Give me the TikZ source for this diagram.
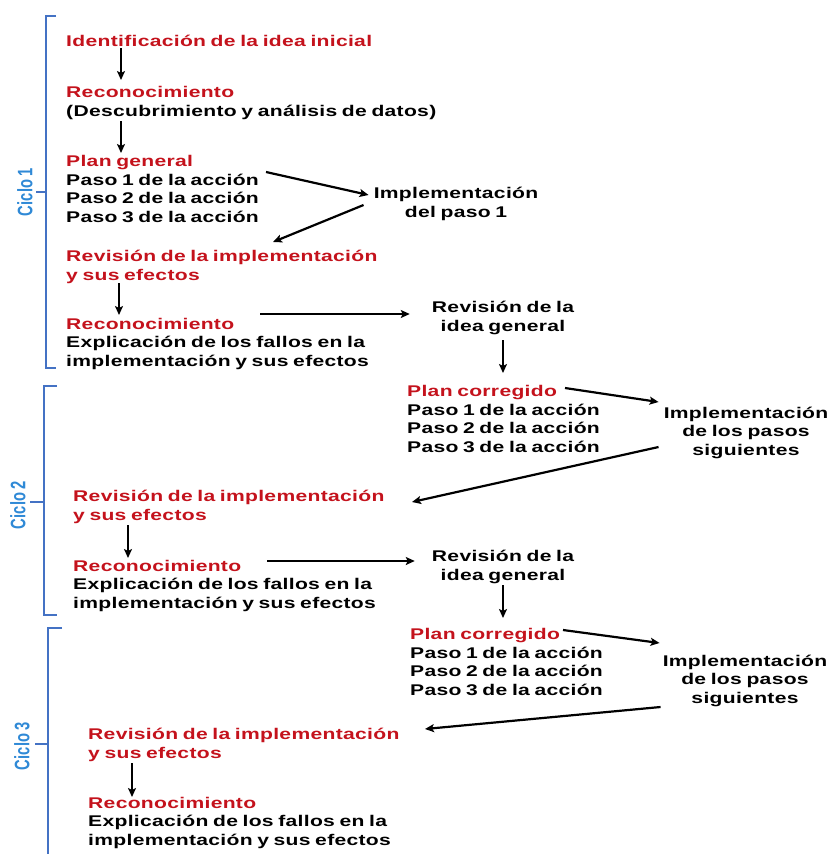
\documentclass[tikz,border=0pt]{standalone}
\usepackage{fontspec}
\usepackage{graphicx}
\setmainfont{Liberation Sans}[FakeStretch=1.36, LetterSpace=2, WordSpace=0.75]
\usetikzlibrary{arrows.meta,calc}
\definecolor{titred}{RGB}{196,18,28}
\definecolor{cicblue}{RGB}{47,137,214}
\definecolor{brblue}{RGB}{68,114,196}
\newcommand{\tit}[1]{\textcolor{titred}{#1}}

\begin{document}
\begin{tikzpicture}[
  x=1pt, y=-1pt,
  every node/.style={inner sep=0pt, font=\fontsize{15.5}{18.5}\selectfont\bfseries},
  stage/.style={anchor=base west, align=left},
  task/.style={anchor=base, align=center},
  ciclo/.style={rotate=90, text=cicblue},
  arr/.style={draw, -{Stealth[length=9pt,width=8pt,inset=2pt]}, line width=2.2pt},
  brace/.style={draw=brblue, line width=2.6pt}
]
\useasboundingbox (0,0) rectangle (832,854);

% ciclos
\draw[brace] (56,16) -- (46,16) -- (46,368) -- (56,368) (46,192) -- (36,192);
\draw[brace] (57,386) -- (44,386) -- (44,615) -- (57,615) (44,502) -- (30,502);
\draw[brace] (62,628) -- (48,628) -- (48,856) (48,744) -- (35,744);
\node[ciclo] (c1) at (25,192) {\scalebox{0.7}[1.35]{Ciclo 1}};
\node[ciclo] (c2) at (18,505) {\scalebox{0.7}[1.35]{Ciclo 2}};
\node[ciclo] (c3) at (22,746) {\scalebox{0.7}[1.35]{Ciclo 3}};

% ciclo 1 (nodes placed at the baseline of their last line)
\node[stage] (ident) at (66,46) {\tit{Identificación de la idea inicial}};
\node[stage] (recon1) at (66,116) {\tit{Reconocimiento}\\(Descubrimiento y análisis de datos)};
\node[stage] (plan1) at (66,222) {\tit{Plan general}\\Paso 1 de la acción\\Paso 2 de la acción\\Paso 3 de la acción};
\node[task] (impl1) at (456,217) {Implementación\\del paso 1};
\node[stage] (rev1) at (66,280) {\tit{Revisión de la implementación}\\\tit{y sus efectos}};
\node[stage] (recon2) at (66,366) {\tit{Reconocimiento}\\Explicación de los fallos en la\\implementación y sus efectos};
\node[task] (revg1) at (503,331) {Revisión de la\\idea general};

% ciclo 2
\node[stage] (plan2) at (407,452) {\tit{Plan corregido}\\Paso 1 de la acción\\Paso 2 de la acción\\Paso 3 de la acción};
\node[task] (impl2) at (746,455) {Implementación\\de los pasos\\siguientes};
\node[stage] (rev2) at (73,520) {\tit{Revisión de la implementación}\\\tit{y sus efectos}};
\node[stage] (recon3) at (73,608) {\tit{Reconocimiento}\\Explicación de los fallos en la\\implementación y sus efectos};
\node[task] (revg2) at (503,580) {Revisión de la\\idea general};

% ciclo 3
\node[stage] (plan3) at (410,695) {\tit{Plan corregido}\\Paso 1 de la acción\\Paso 2 de la acción\\Paso 3 de la acción};
\node[task] (impl3) at (745,703) {Implementación\\de los pasos\\siguientes};
\node[stage] (rev3) at (88,758) {\tit{Revisión de la implementación}\\\tit{y sus efectos}};
\node[stage] (recon4) at (88,845) {\tit{Reconocimiento}\\Explicación de los fallos en la\\implementación y sus efectos};

\draw[arr] ($(ident.base west)+(55,2)$) -- ($(recon1.base west)+(55,-36)$);
\draw[arr] ($(recon1.base west)+(55,5)$) -- ($(plan1.base west)+(55,-69)$);
\draw[arr] ($(plan1.base west)+(200,-50)$) -- ($(impl1.base west)+(-5,-22)$);
\draw[arr] ($(impl1.base west)+(-10,-12)$) -- ($(rev1.base west)+(207,-38)$);
\draw[arr] ($(rev1.base west)+(53,3)$) -- ($(recon2.base west)+(53,-51)$);
\draw[arr] ($(recon2.base west)+(194,-52)$) -- ($(revg1.base west)+(-22,-17)$);
\draw[arr] ($(revg1.base)+(0,9)$) -- ($(plan2.base west)+(96,-79)$);
\draw[arr] ($(plan2.base west)+(158,-64)$) -- ($(impl2.base west)+(-5,-53)$);
\draw[arr] ($(impl2.base west)+(-5,-8)$) -- ($(rev2.base west)+(339,-18)$);
\draw[arr] ($(rev2.base west)+(55,5)$) -- ($(recon3.base west)+(55,-50)$);
\draw[arr] ($(recon3.base west)+(194,-47)$) -- ($(revg2.base west)+(-17,-19)$);
\draw[arr] ($(revg2.base)+(0,5)$) -- ($(plan3.base west)+(93,-77)$);
\draw[arr] ($(plan3.base west)+(153,-65)$) -- ($(impl3.base west)+(-3,-60)$);
\draw[arr] ($(impl3.base west)+(-2,4)$) -- ($(rev3.base west)+(337,-29)$);
\draw[arr] ($(rev3.base west)+(44,5)$) -- ($(recon4.base west)+(44,-48)$);
\end{tikzpicture}
\end{document}
